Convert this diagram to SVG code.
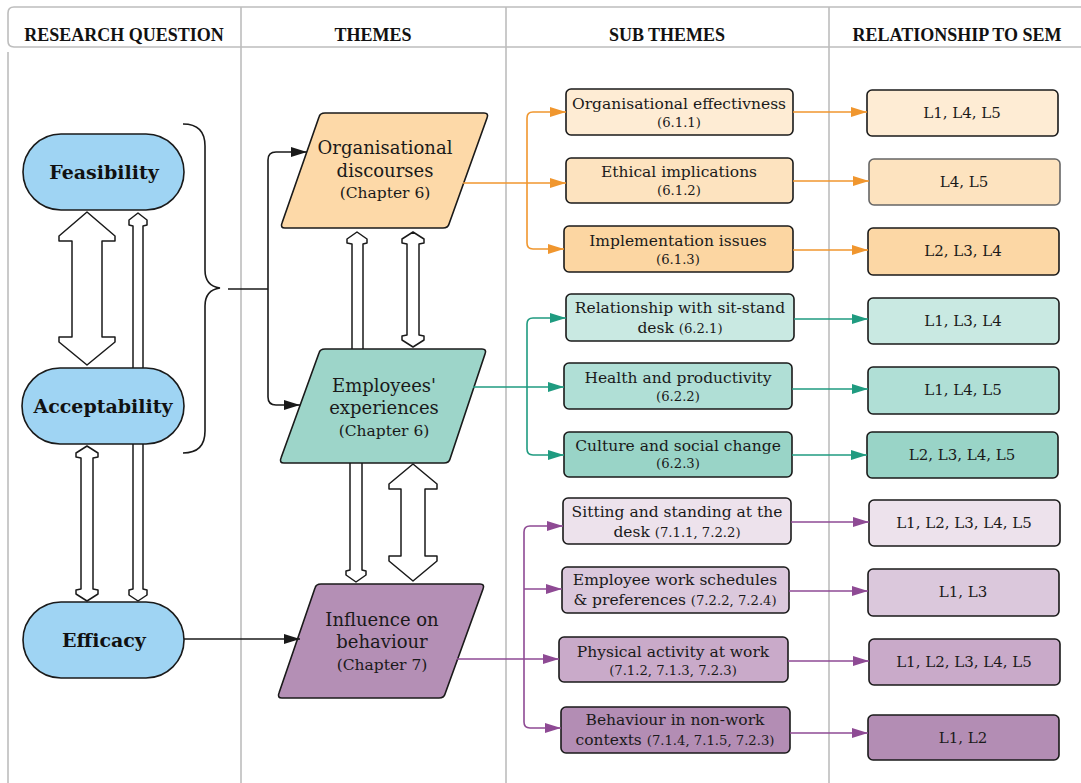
<svg xmlns="http://www.w3.org/2000/svg" width="1081" height="783" viewBox="0 0 1081 783">
  <style>
    .grid { fill: none; stroke: #bdbdbd; stroke-width: 1.6; }
    .hdr { font-family: "Liberation Serif", "DejaVu Serif", serif; font-weight: bold; font-size: 18px; fill: #111; text-anchor: middle; }
    .pill { fill: #9fd4f3; stroke: #1a1a1a; stroke-width: 1.6; }
    .pilltxt { font-family: "DejaVu Serif", serif; font-weight: bold; font-size: 19px; fill: #111; text-anchor: middle; }
    .para { stroke: #1a1a1a; stroke-width: 1.6; stroke-linejoin: round; }
    .ptxt { font-family: "DejaVu Serif", serif; font-size: 18px; fill: #1a1a1a; text-anchor: middle; }
    .psub { font-size: 15.5px; }
    .box { stroke: #1a1a1a; stroke-width: 1.6; }
    .btxt { font-family: "DejaVu Serif", serif; font-size: 15.5px; fill: #1a1a1a; text-anchor: middle; }
    .bsub { font-size: 13.2px; }
    .rtxt { font-family: "DejaVu Serif", serif; font-size: 15px; fill: #1a1a1a; text-anchor: middle; }
    .block { fill: #fff; stroke: #1a1a1a; stroke-width: 1.5; stroke-linejoin: round; }
    .blk { fill: none; stroke: #1a1a1a; stroke-width: 1.6; }
    .org { fill: none; stroke: #f0962e; stroke-width: 1.6; }
    .teal { fill: none; stroke: #1f9b80; stroke-width: 1.6; }
    .pur { fill: none; stroke: #8e4a94; stroke-width: 1.6; }
  </style>
  <defs>
    <marker id="ahBlack" viewBox="0 0 16 10" refX="16" refY="5" markerWidth="16" markerHeight="10" markerUnits="userSpaceOnUse" orient="auto">
      <path d="M0,0 L16,5 L0,10 Z" fill="#1a1a1a"/>
    </marker>
    <marker id="ahOrg" viewBox="0 0 16 10" refX="16" refY="5" markerWidth="16" markerHeight="10" markerUnits="userSpaceOnUse" orient="auto">
      <path d="M0,0 L16,5 L0,10 Z" fill="#f0962e"/>
    </marker>
    <marker id="ahTeal" viewBox="0 0 16 10" refX="16" refY="5" markerWidth="16" markerHeight="10" markerUnits="userSpaceOnUse" orient="auto">
      <path d="M0,0 L16,5 L0,10 Z" fill="#1f9b80"/>
    </marker>
    <marker id="ahPur" viewBox="0 0 16 10" refX="16" refY="5" markerWidth="16" markerHeight="10" markerUnits="userSpaceOnUse" orient="auto">
      <path d="M0,0 L16,5 L0,10 Z" fill="#8e4a94"/>
    </marker>
  </defs>

  <rect width="1081" height="783" fill="#fff"/>

  <!-- table grid -->
  <g id="table">
    <path class="grid" d="M1081,7 L14,7 Q8,7 8,13 L8,41 Q8,47 14,47 L1081,47"/>
    <path class="grid" d="M8,52 L8,783"/>
    <path class="grid" d="M241,7 L241,783 M506,7 L506,783 M829,7 L829,783"/>
    <text class="hdr" x="124" y="41">RESEARCH QUESTION</text>
    <text class="hdr" x="373" y="41">THEMES</text>
    <text class="hdr" x="667" y="41">SUB THEMES</text>
    <text class="hdr" x="957" y="41">RELATIONSHIP TO SEM</text>
  </g>

  <!-- block arrows between research questions -->
  <g id="rq-links">
    <path class="block" d="M138,213 L147,220 L147,225 L143,226 L143,589 L147,590 L147,595 L138,601 L129,595 L129,590 L133,589 L133,226 L129,225 L129,220 Z"/>
    <path class="block" d="M87,212 L115,236 L115,241 L102,241 L102,337 L115,337 L115,342 L87,365 L59,342 L59,337 L72,337 L72,241 L59,241 L59,236 Z"/>
    <path class="block" d="M87,446 L98,453 L98,457 L93,458 L93,589 L98,590 L98,594 L87,601 L76,594 L76,590 L81,589 L81,458 L76,457 L76,453 Z"/>
  </g>

  <!-- research questions -->
  <g id="feasibility">
    <rect class="pill" x="23" y="134" width="161" height="76" rx="38"/>
    <text class="pilltxt" x="104" y="179">Feasibility</text>
  </g>
  <g id="acceptability">
    <rect class="pill" x="22" y="368" width="162" height="76" rx="38"/>
    <text class="pilltxt" x="103" y="413">Acceptability</text>
  </g>
  <g id="efficacy">
    <rect class="pill" x="23" y="602" width="161" height="76" rx="38"/>
    <text class="pilltxt" x="104" y="647">Efficacy</text>
  </g>

  <!-- block arrows between themes -->
  <g id="theme-links">
    <path class="block" d="M357,232 L367,239 L367,243 L363,244 L363,352 L352,352 L352,244 L347,243 L347,239 Z"/>
    <path class="block" d="M413,232 L424,239 L424,243 L419,244 L419,335 L424,336 L424,340 L413,347 L402,340 L402,336 L407,335 L407,244 L402,243 L402,239 Z"/>
    <path class="block" d="M350,460 L362,460 L362,570 L366,571 L366,575 L356,582 L346,575 L346,571 L350,570 Z"/>
    <path class="block" d="M413,464 L437,484 L437,489 L425,489 L425,556 L437,556 L437,561 L413,581 L389,561 L389,556 L401,556 L401,489 L389,489 L389,484 Z"/>
  </g>

  <!-- themes -->
  <g id="organisational-discourses">
    <path class="para" fill="#fdd9a8" d="M325,113 L484,113 Q489,113 487,118 L449,224 Q448,228 443,228 L285,228 Q280,228 282,223 L319,117 Q320,113 325,113 Z"/>
    <text class="ptxt" x="385" y="154">Organisational</text>
    <text class="ptxt" x="385" y="177">discourses</text>
    <text class="ptxt psub" x="385" y="198">(Chapter 6)</text>
  </g>
  <g id="employees-experiences">
    <path class="para" fill="#9dd5c9" d="M325,349 L482,349 Q487,349 485,354 L450,459 Q449,463 444,463 L284,463 Q279,463 281,458 L319,353 Q320,349 325,349 Z"/>
    <text class="ptxt" x="384" y="392">Employees'</text>
    <text class="ptxt" x="384" y="414">experiences</text>
    <text class="ptxt psub" x="384" y="436">(Chapter 6)</text>
  </g>
  <g id="influence-on-behaviour">
    <path class="para" fill="#b48fb5" d="M321,584 L480,584 Q485,584 483,589 L445,694 Q444,698 439,698 L282,698 Q277,698 279,693 L315,588 Q316,584 321,584 Z"/>
    <text class="ptxt" x="382" y="626">Influence on</text>
    <text class="ptxt" x="382" y="648">behaviour</text>
    <text class="ptxt psub" x="382" y="670">(Chapter 7)</text>
  </g>

  <!-- sub themes -->
  <g id="st-611">
    <rect class="box" fill="#feecd4" x="566" y="89" width="227" height="46" rx="5"/>
    <text class="btxt" x="679" y="109">Organisational effectivness</text>
    <text class="btxt bsub" x="679" y="127">(6.1.1)</text>
  </g>
  <g id="st-612">
    <rect class="box" fill="#fde3bf" x="566" y="158" width="227" height="45" rx="5"/>
    <text class="btxt" x="679" y="177">Ethical implications</text>
    <text class="btxt bsub" x="679" y="195">(6.1.2)</text>
  </g>
  <g id="st-613">
    <rect class="box" fill="#fcd6a2" x="564" y="226" width="229" height="46" rx="5"/>
    <text class="btxt" x="678" y="246">Implementation issues</text>
    <text class="btxt bsub" x="678" y="264">(6.1.3)</text>
  </g>
  <g id="st-621">
    <rect class="box" fill="#c9e9e2" x="566" y="294" width="228" height="47" rx="5"/>
    <text class="btxt" x="680" y="313">Relationship with sit-stand</text>
    <text class="btxt" x="680" y="333">desk <tspan class="bsub">(6.2.1)</tspan></text>
  </g>
  <g id="st-622">
    <rect class="box" fill="#b0dfd6" x="564" y="363" width="228" height="46" rx="5"/>
    <text class="btxt" x="678" y="383">Health and productivity</text>
    <text class="btxt bsub" x="678" y="401">(6.2.2)</text>
  </g>
  <g id="st-623">
    <rect class="box" fill="#99d4c7" x="564" y="432" width="228" height="45" rx="5"/>
    <text class="btxt" x="678" y="451">Culture and social change</text>
    <text class="btxt bsub" x="678" y="468">(6.2.3)</text>
  </g>
  <g id="st-sitting">
    <rect class="box" fill="#ede2ec" x="563" y="498" width="228" height="46" rx="5"/>
    <text class="btxt" x="677" y="517">Sitting and standing at the</text>
    <text class="btxt" x="677" y="537">desk <tspan class="bsub">(7.1.1, 7.2.2)</tspan></text>
  </g>
  <g id="st-schedules">
    <rect class="box" fill="#dbc8dc" x="562" y="567" width="227" height="46" rx="5"/>
    <text class="btxt" x="675" y="585">Employee work schedules</text>
    <text class="btxt" x="675" y="605">&amp; preferences <tspan class="bsub">(7.2.2, 7.2.4)</tspan></text>
  </g>
  <g id="st-activity">
    <rect class="box" fill="#c9aac9" x="559" y="637" width="229" height="45" rx="5"/>
    <text class="btxt" x="673" y="657">Physical activity at work</text>
    <text class="btxt bsub" x="673" y="675">(7.1.2, 7.1.3, 7.2.3)</text>
  </g>
  <g id="st-nonwork">
    <rect class="box" fill="#b38db4" x="561" y="707" width="229" height="46" rx="5"/>
    <text class="btxt" x="675" y="725">Behaviour in non-work</text>
    <text class="btxt" x="675" y="745">contexts <tspan class="bsub">(7.1.4, 7.1.5, 7.2.3)</tspan></text>
  </g>

  <!-- relationship to SEM levels -->
  <g id="sem-1">
    <rect class="box" fill="#feecd4" x="867" y="90" width="191" height="46" rx="5"/>
    <text class="rtxt" x="962" y="118">L1, L4, L5</text>
  </g>
  <g id="sem-2">
    <rect class="box" fill="#fde3bf" x="869" y="159" width="191" height="46" rx="5" style="stroke:#666"/>
    <text class="rtxt" x="964" y="187">L4, L5</text>
  </g>
  <g id="sem-3">
    <rect class="box" fill="#fcd7a5" x="868" y="228" width="191" height="47" rx="5"/>
    <text class="rtxt" x="963" y="256">L2, L3, L4</text>
  </g>
  <g id="sem-4">
    <rect class="box" fill="#c9e9e2" x="868" y="298" width="191" height="46" rx="5"/>
    <text class="rtxt" x="963" y="326">L1, L3, L4</text>
  </g>
  <g id="sem-5">
    <rect class="box" fill="#b0dfd6" x="868" y="367" width="191" height="47" rx="5"/>
    <text class="rtxt" x="963" y="395">L1, L4, L5</text>
  </g>
  <g id="sem-6">
    <rect class="box" fill="#99d4c7" x="867" y="432" width="191" height="46" rx="5"/>
    <text class="rtxt" x="962" y="460">L2, L3, L4, L5</text>
  </g>
  <g id="sem-7">
    <rect class="box" fill="#ede2ec" x="869" y="500" width="191" height="46" rx="5"/>
    <text class="rtxt" x="964" y="528">L1, L2, L3, L4, L5</text>
  </g>
  <g id="sem-8">
    <rect class="box" fill="#dbc8dc" x="868" y="569" width="191" height="47" rx="5"/>
    <text class="rtxt" x="963" y="597">L1, L3</text>
  </g>
  <g id="sem-9">
    <rect class="box" fill="#c9aac9" x="869" y="639" width="191" height="46" rx="5"/>
    <text class="rtxt" x="964" y="667">L1, L2, L3, L4, L5</text>
  </g>
  <g id="sem-10">
    <rect class="box" fill="#b38db4" x="868" y="715" width="191" height="45" rx="5"/>
    <text class="rtxt" x="963" y="743">L1, L2</text>
  </g>

  <!-- connectors -->
  <g id="connectors">
    <!-- brace grouping feasibility and acceptability -->
    <path class="blk" d="M183,124 Q205,124 205,146 L205,270 Q205,286 220,288 Q205,290 205,306 L205,431 Q205,453 183,453"/>
    <path class="blk" d="M228,289 L268,289"/>
    <path class="blk" marker-end="url(#ahBlack)" d="M268,289 L268,160 Q268,152 276,152 L307,152"/>
    <path class="blk" marker-end="url(#ahBlack)" d="M268,289 L268,397 Q268,405 276,405 L300,405"/>
    <path class="blk" marker-end="url(#ahBlack)" d="M184,639 L300,639"/>

    <!-- organisational discourses -->
    <path class="org" marker-end="url(#ahOrg)" d="M463,183 L566,183"/>
    <path class="org" marker-end="url(#ahOrg)" d="M527,183 L527,118 Q527,112 533,112 L566,112"/>
    <path class="org" marker-end="url(#ahOrg)" d="M527,183 L527,243 Q527,249 533,249 L564,249"/>
    <path class="org" marker-end="url(#ahOrg)" d="M793,112 L867,112"/>
    <path class="org" marker-end="url(#ahOrg)" d="M793,181 L869,181"/>
    <path class="org" marker-end="url(#ahOrg)" d="M793,250 L868,250"/>

    <!-- employees' experiences -->
    <path class="teal" marker-end="url(#ahTeal)" d="M473,387 L564,387"/>
    <path class="teal" marker-end="url(#ahTeal)" d="M527,387 L527,324 Q527,318 533,318 L566,318"/>
    <path class="teal" marker-end="url(#ahTeal)" d="M527,387 L527,449 Q527,455 533,455 L564,455"/>
    <path class="teal" marker-end="url(#ahTeal)" d="M794,319 L868,319"/>
    <path class="teal" marker-end="url(#ahTeal)" d="M792,389 L868,389"/>
    <path class="teal" marker-end="url(#ahTeal)" d="M792,455 L867,455"/>

    <!-- influence on behaviour -->
    <path class="pur" marker-end="url(#ahPur)" d="M457,659 L559,659"/>
    <path class="pur" marker-end="url(#ahPur)" d="M524,659 L524,532 Q524,526 530,526 L563,526"/>
    <path class="pur" marker-end="url(#ahPur)" d="M524,589 L562,589"/>
    <path class="pur" marker-end="url(#ahPur)" d="M524,659 L524,722 Q524,728 530,728 L561,728"/>
    <path class="pur" marker-end="url(#ahPur)" d="M791,522 L869,522"/>
    <path class="pur" marker-end="url(#ahPur)" d="M789,591 L868,591"/>
    <path class="pur" marker-end="url(#ahPur)" d="M788,661 L869,661"/>
    <path class="pur" marker-end="url(#ahPur)" d="M790,733 L868,733"/>
  </g>
</svg>
